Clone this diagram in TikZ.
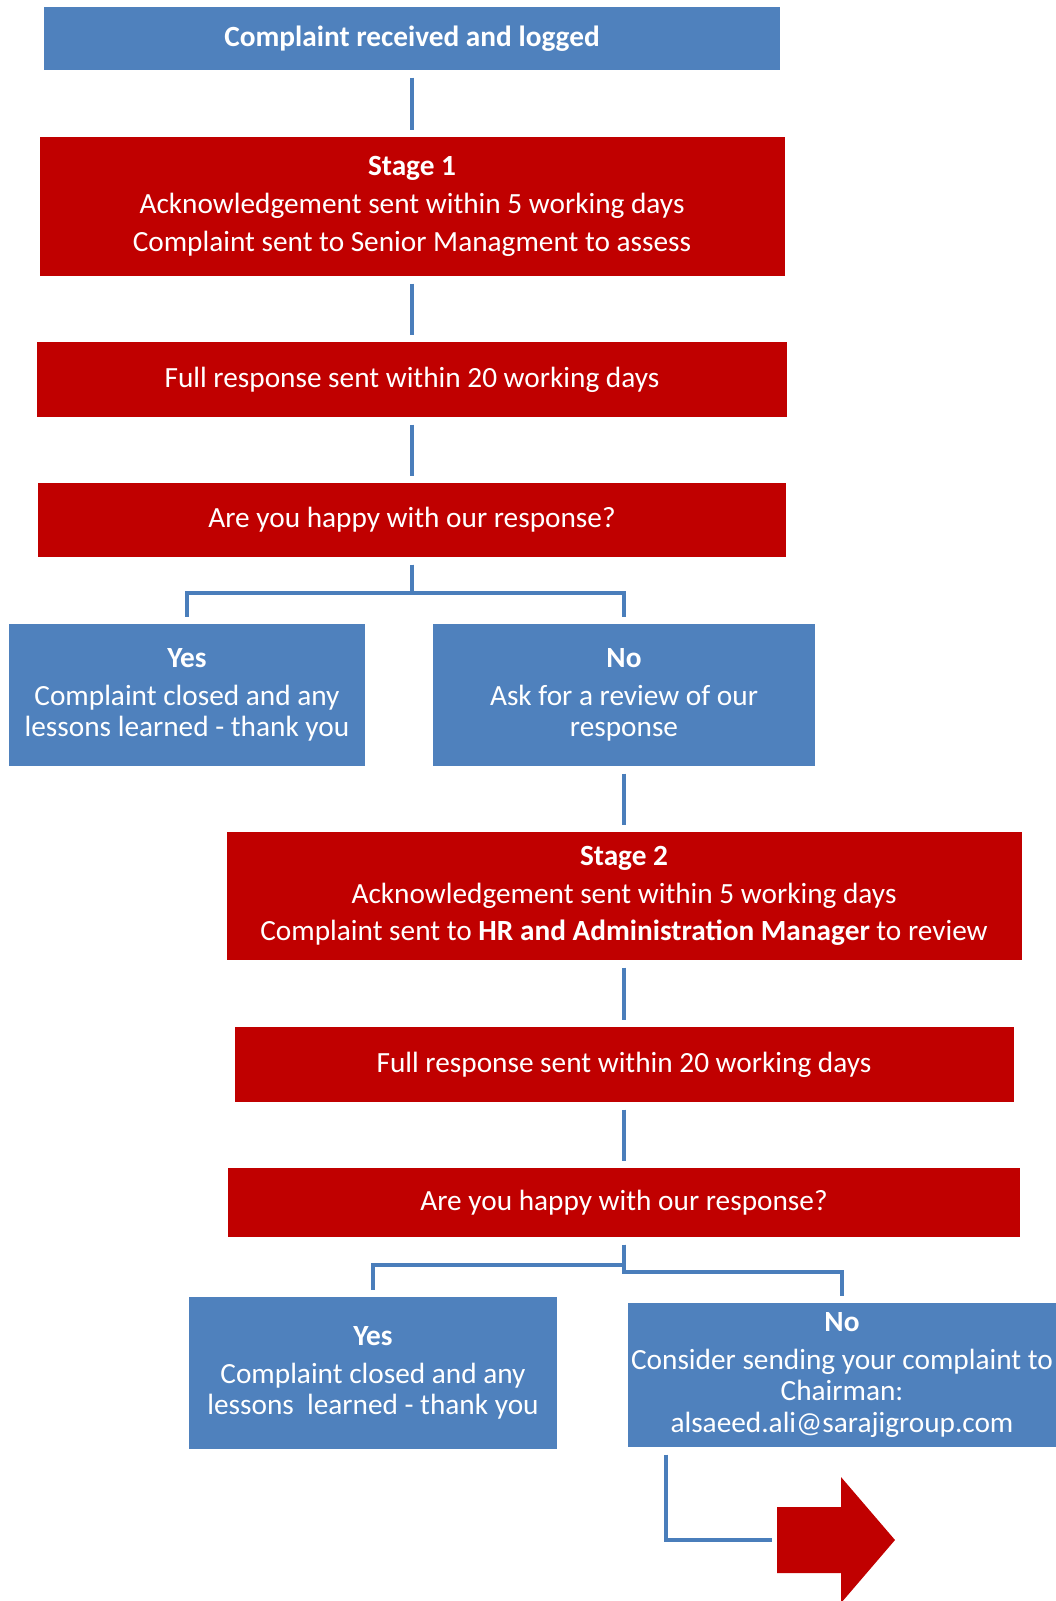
\documentclass[tikz,border=0pt]{standalone}
\usepackage{fontspec}
\setmainfont{Carlito}
\usetikzlibrary{positioning}

\definecolor{boxblue}{HTML}{4F81BD}
\definecolor{boxred}{HTML}{C00000}
\definecolor{lineblue}{HTML}{4A7EBB}

\begin{document}
\begin{tikzpicture}[x=1pt,y=-1pt,line width=4pt,
    box/.style={inner sep=0pt,align=center,text=white,
      font=\fontsize{29.3}{37.8}\selectfont},
    bluebox/.style={box,fill=boxblue},
    redbox/.style={box,fill=boxred},
    choice/.style={bluebox,font=\fontsize{29.3}{31.8}\selectfont},
    conn/.style={draw=lineblue,shorten <=5.5pt,shorten >=5.5pt}]
      \useasboundingbox (0,0) rectangle (1056,1601);

      % first round
      \node[bluebox,minimum width=736pt,minimum height=63pt] (recv) at (412,38.5) {\textbf{Complaint received and logged}};
      \node[redbox,minimum width=745pt,minimum height=139pt] (st1) at (412,206.5)
        {\textbf{Stage 1}\\Acknowledgement sent within 5 working days\\Complaint sent to Senior Managment to assess};
      \node[redbox,minimum width=750pt,minimum height=75pt] (full1) at (412,379.5) {Full response sent within 20 working days};
      \node[redbox,minimum width=748pt,minimum height=74pt] (ask1) at (412,520) {Are you happy with our response?};
      \node[choice,minimum width=356pt,minimum height=142pt] (yes1) at (187,695)
        {\textbf{Yes}\\[6pt]Complaint closed and any\\lessons learned - thank you};
      \node[choice,minimum width=382pt,minimum height=142pt] (no1) at (624,695)
        {\textbf{No}\\[6pt]Ask for a review of our\\response};

      % second round
      \node[redbox,minimum width=795pt,minimum height=128pt] (st2) at (624,896)
        {\textbf{Stage 2}\\Acknowledgement sent within 5 working days\\Complaint sent to \textbf{HR and Administration Manager} to review};
      \node[redbox,minimum width=779pt,minimum height=75pt] (full2) at (624,1064.5) {Full response sent within 20 working days};
      \node[redbox,minimum width=792pt,minimum height=69pt] (ask2) at (624,1202.5) {Are you happy with our response?};
      \node[choice,minimum width=368pt,minimum height=152pt] (yes2) at (373,1373)
        {\textbf{Yes}\\[6pt]Complaint closed and any\\lessons~ learned - thank you};
      \node[choice,minimum width=428pt,minimum height=144pt] (no2) at (842,1375)
        {\textbf{No}\\[6pt]Consider sending your complaint to\\Chairman:\\alsaeed.ali@sarajigroup.com};

      % big arrow
      \fill[boxred] (777,1507) -- (841,1507) -- (841,1477) -- (895,1540) -- (841,1603)
        -- (841,1573) -- (777,1573) -- cycle;
      \coordinate (arr) at (777,1540);

      \draw[conn] (recv) -- (st1);
      \draw[conn] (st1) -- (full1);
      \draw[conn] (full1) -- (ask1);
      \draw[conn] (ask1.south) -- ++(0,34) -| (yes1.north);
      \draw[conn] (ask1.south) -- ++(0,34) -| (no1.north);
      \draw[conn] (no1) -- (st2);
      \draw[conn] (st2) -- (full2);
      \draw[conn] (full2) -- (ask2);
      \draw[conn] (ask2.south) -- ++(0,26) -| (yes2.north);
      \draw[conn] (ask2.south) -- ++(0,33) -| (no2.north);
      \draw[conn] ([xshift=40pt]no2.south west) |- (arr);
    \end{tikzpicture}
\end{document}
